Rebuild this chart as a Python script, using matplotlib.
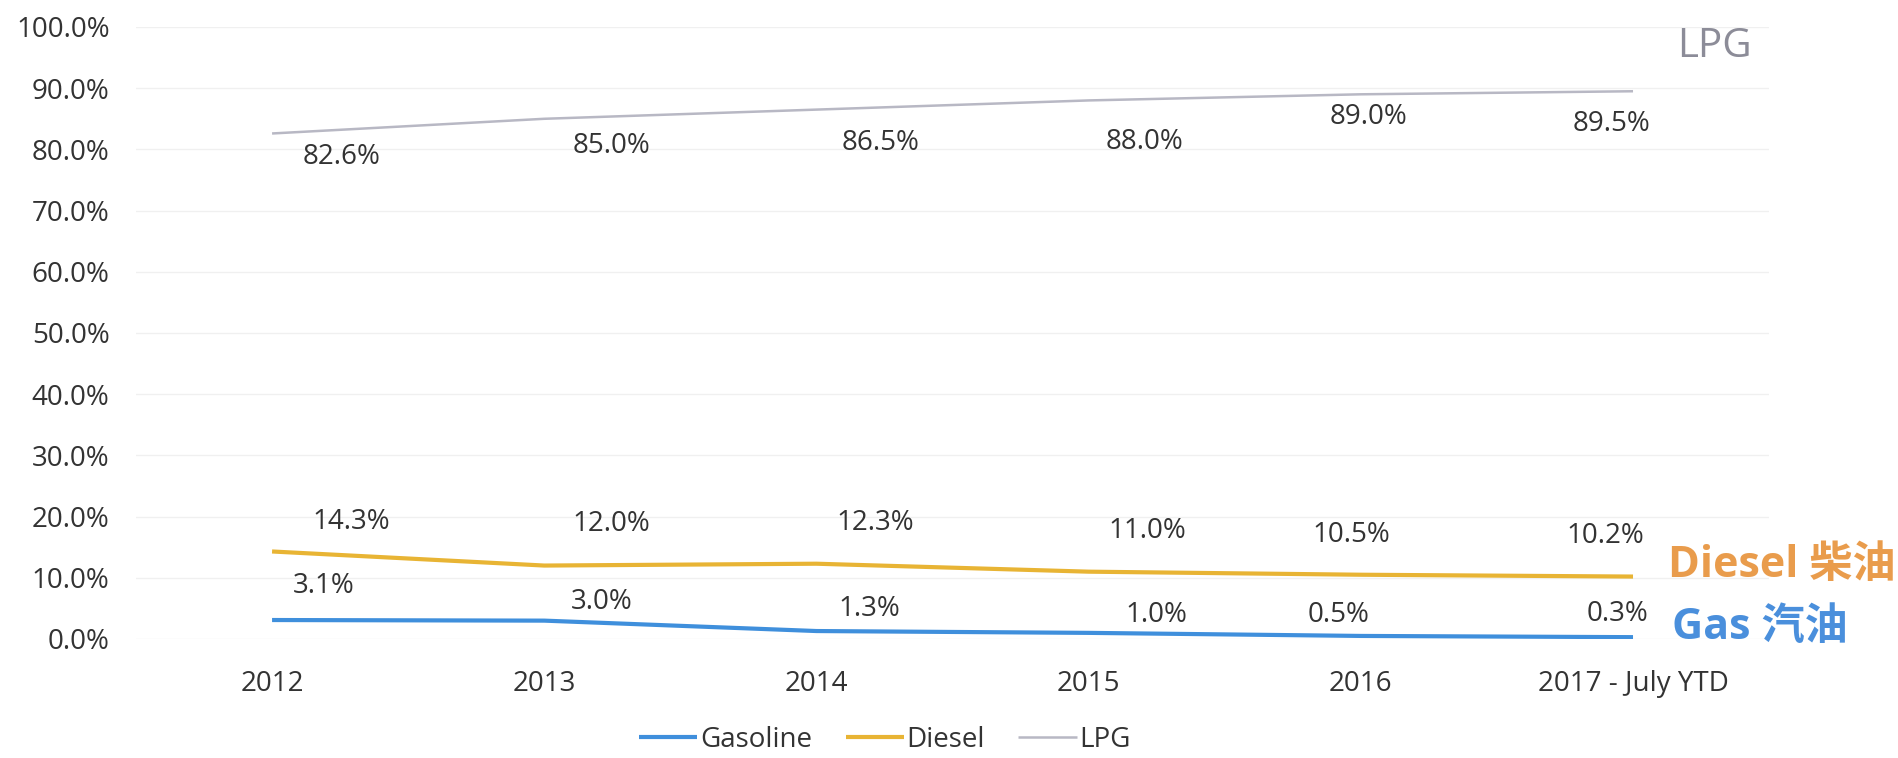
import numpy as np
import matplotlib.pyplot as plt
from matplotlib.ticker import FuncFormatter

############## Data ####################
years = ['2012', '2013', '2014', '2015', '2016', '2017 - July YTD']
gasoline = [3.1, 3.0, 1.3, 1.0, 0.5, 0.3]
diesel = [14.3, 12.0, 12.3, 11.0, 10.5, 10.2]
lpg = [82.6, 85.0, 86.5, 88.0, 89.0, 89.5]

# label offsets (pixels) from each point
lpg_off = [(69, -24), (67, -27), (64, -33), (56, -42), (8, -23), (-22, -33)]
diesel_off = [(79, 29), (67, 42), (59, 41), (59, 41), (-10, 40), (-28, 41)]
gas_off = [(52, 34), (57, 19), (53, 22), (68, 18), (-22, 21), (-16, 23)]

c_gas = '#3f8fdc'
c_diesel = '#e8b434'
c_lpg = '#b8b8c4'
txt = '#333333'

plt.rcParams['font.family'] = ['Open Sans', 'Noto Sans CJK SC', 'DejaVu Sans']
plt.rcParams['font.size'] = 20

fig = plt.figure(figsize=(18.99, 7.58), dpi=100)
ax = fig.add_axes([0.0716, 0.157, 0.86, 0.8074])
x = np.arange(len(years))

ax.plot(x, gasoline, color=c_gas, lw=3.0, label='Gasoline', solid_capstyle='butt')
ax.plot(x, diesel, color=c_diesel, lw=3.0, label='Diesel', solid_capstyle='butt')
ax.plot(x, lpg, color=c_lpg, lw=1.8, label='LPG', solid_capstyle='butt')

for vals, offs in [(lpg, lpg_off), (diesel, diesel_off), (gasoline, gas_off)]:
    for i, v in enumerate(vals):
        ax.annotate('%.1f%%' % v, (x[i], v), xytext=offs[i], textcoords='offset pixels',
                    ha='center', va='center', color=txt)

# series names at the right
ax.annotate('LPG', (x[-1], lpg[-1]), xytext=(44, 44), textcoords='offset pixels',
            ha='left', va='center', color='#8c8c98', fontsize=29, annotation_clip=False)
ax.annotate('Diesel 柴油', (x[-1], diesel[-1]), xytext=(35, 11), textcoords='offset pixels',
            ha='left', va='center', color='#e99c4c', fontsize=31, fontweight='bold',
            annotation_clip=False)
ax.annotate('Gas 汽油', (x[-1], gasoline[-1]), xytext=(39, 10), textcoords='offset pixels',
            ha='left', va='center', color='#4a8fdc', fontsize=31, fontweight='bold',
            annotation_clip=False)

ax.set_xlim(-0.5, 5.5)
ax.set_ylim(0, 100)
ax.set_yticks(np.arange(0, 101, 10))
ax.yaxis.set_major_formatter(FuncFormatter(lambda v, p: '%.1f%%' % v))
ax.set_xticks(x)
ax.set_xticklabels(years)
ax.tick_params(axis='y', length=0, pad=19, colors=txt)
ax.tick_params(axis='x', length=0, pad=22, colors=txt)
for s in ax.spines.values():
    s.set_visible(False)
ax.grid(axis='y', color='#f0f0f0', lw=1)
ax.set_axisbelow(True)

ax.legend(loc='center', bbox_to_anchor=(885 / 1899, 1 - 740 / 758), bbox_transform=fig.transFigure,
          ncol=3, frameon=False, handlelength=2.1, handletextpad=0.1, columnspacing=1.2,
          labelcolor=txt)

fig.savefig('out.png', dpi=100)
